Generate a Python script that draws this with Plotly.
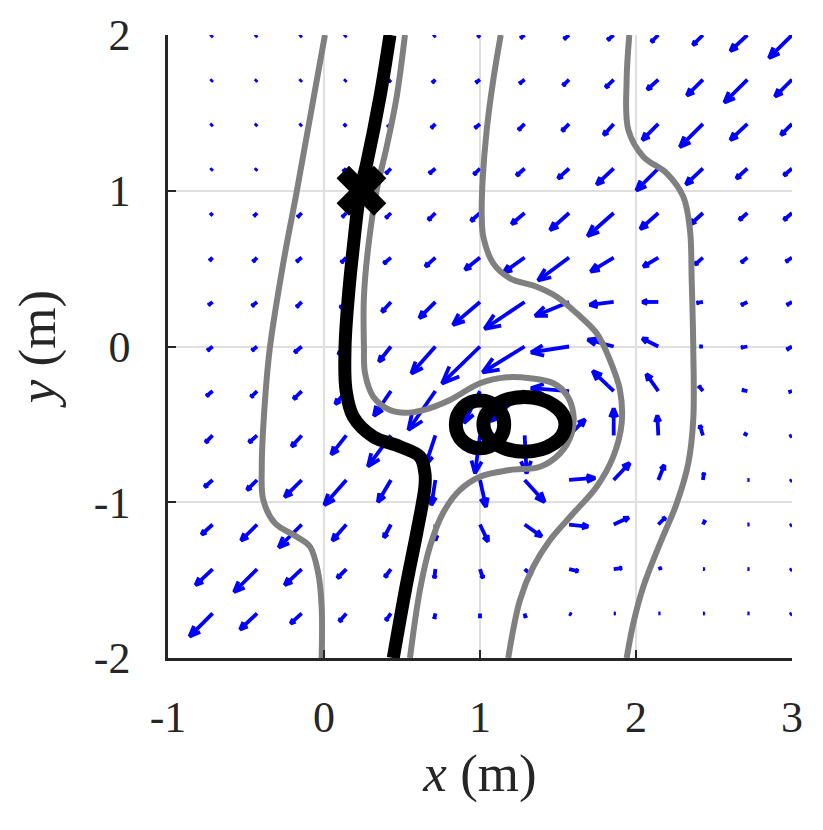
import numpy as np
import plotly.graph_objects as go
import plotly.figure_factory as ff

# quiver grid (tails of the arrows)
grid_x = [-0.714, -0.429, -0.143, 0.143, 0.429, 0.714, 1.0, 1.286, 1.571, 1.857, 2.143, 2.429, 2.714, 3.0]
grid_y = [2.0, 1.714, 1.429, 1.143, 0.857, 0.571, 0.286, 0.0, -0.286, -0.571, -0.857, -1.143, -1.429, -1.714]

# arrow components as drawn (one row per grid_y value)
U = [
    [-1.5, -1.5, -1.5, -1.5, -1.5, -1.5, -2, -4, -5, -6, -7, -10, -17, -23],
    [-1.5, -1.5, -1.5, -1.5, -2, -3, -4, -5, -6, -8, -11, -16, -23, -17],
    [-1.5, -1.5, -1.5, -2, -3, -4, -5, -6, -7, -10, -16, -23, -17, -11],
    [-1.5, -1.5, -2, -3, -5, -6, -6, -8, -11, -17, -22, -17, -11, -8],
    [-2, -3, -4, -4, -5, -7, -9, -13, -19, -26, -18, -12, -8, -8],
    [-3, -4, -5, -5, -7, -10, -15, -21, -31, -23, -15, -8, -6, -6],
    [-4, -5, -5, -6, -9, -16, -27, -40, -34, -24, -16, -6, -6, -5],
    [-5, -5, -7, -8, -12, -24, -38, -42, -38, -26, -16, -3, -6, -5],
    [-6, -6, -8, -11, -17, -27, -16, -34, -38, -21, -12, -4, -5, -3],
    [-7, -8, -10, -15, -23, -10, -5, 2, 16, 0, -1, -3, -3, -2],
    [-8, -10, -17, -22, -13, -4, 6, 20, 26, 16, 6, 1, 1.5, -1.5],
    [-11, -16, -23, -14, -7, 0, 8, 17, 19, 15, 7, 2, 1.5, -1.5],
    [-17, -23, -17, -9, -6, -1, 3, 7, 9, 8, 3, 1.5, 1.5, -1.5],
    [-23, -17, -11, -7, -5, -1, 0, 1, 2, 1.5, 1.5, 1.5, 1.5, -1.5],
]
V = [
    [-1.5, -1.5, -1.5, -1.5, -1.5, -1.5, -2, -3, -4, -5, -7, -10, -16, -23],
    [-1.5, -1.5, -1.5, -1.5, -2, -3, -3, -4, -6, -8, -10, -16, -23, -17],
    [-1.5, -1.5, -1.5, -2, -3, -4, -4, -6, -7, -11, -16, -23, -16, -11],
    [-1.5, -1.5, -2, -3, -5, -5, -6, -7, -10, -16, -22, -16, -10, -7],
    [-2, -3, -4, -4, -5, -7, -8, -11, -17, -23, -16, -11, -7, -7],
    [-3, -4, -4, -5, -6, -9, -12, -15, -23, -14, -9, -7, -5, -4],
    [-3, -4, -5, -6, -10, -16, -23, -27, -14, -3, 0, -1, -3, -3],
    [-4, -4, -6, -8, -15, -27, -37, -26, -6, 7, 8, 0, -1, -3],
    [-5, -6, -8, -13, -25, -39, -32, -30, 3, 20, 17, 5, 1, -1],
    [-7, -7, -11, -19, -31, -30, -38, -38, 16, 27, 20, 10, 2, -1],
    [-7, -10, -17, -25, -22, -25, -27, -22, 2, 17, 15, 7, 0, -1],
    [-10, -16, -23, -16, -13, -16, -17, -12, -2, 7, 7, 4, 0, -1],
    [-16, -23, -16, -9, -8, -9, -9, -6, -2, 1, 1, 0, 0, -1],
    [-23, -16, -10, -8, -7, -5, -4, -4, -1, 0, 0, 0, 0, -1],
]

# streamlines (grey)
s1_x = [0.006, -0.175, -0.261, -0.346, -0.378, -0.399, -0.389, -0.314, -0.175, -0.090, -0.037, -0.015, -0.015]
s1_y = [2.0, 0.994, 0.536, -0.001, -0.343, -0.772, -0.986, -1.135, -1.221, -1.285, -1.456, -1.671, -2.0]

s2_x = [0.519, 0.466, 0.402, 0.338, 0.284, 0.256, 0.256, 0.263, 0.316, 0.423, 0.519, 0.637, 0.808, 1.0,
        1.171, 1.321, 1.470, 1.556, 1.598, 1.588, 1.513, 1.385, 1.192, 1.0, 0.872, 0.763, 0.679, 0.615, 0.551]
s2_y = [2.0, 1.604, 1.283, 1.005, 0.641, 0.320, -0.001, -0.172, -0.322, -0.408, -0.425, -0.408, -0.343, -0.236,
        -0.198, -0.204, -0.236, -0.311, -0.429, -0.557, -0.686, -0.772, -0.793, -0.836, -0.921, -1.069, -1.285, -1.563, -2.0]

s3_x = [1.133, 1.085, 1.043, 1.017, 1.011, 1.021, 1.085, 1.192, 1.363, 1.492, 1.620, 1.748, 1.833, 1.897,
        1.908, 1.854, 1.748, 1.598, 1.449, 1.342, 1.256, 1.181]
s3_y = [2.0, 1.711, 1.390, 1.069, 0.855, 0.705, 0.534, 0.438, 0.384, 0.320, 0.213, 0.085, -0.087, -0.279,
        -0.493, -0.708, -0.900, -1.071, -1.242, -1.414, -1.628, -2.0]

s4_x = [1.957, 1.940, 1.951, 2.047, 2.197, 2.303, 2.346, 2.357, 2.367, 2.367, 2.335, 2.261, 2.154, 2.047, 1.983, 1.940]
s4_y = [2.0, 1.711, 1.390, 1.219, 1.112, 0.962, 0.748, 0.427, -0.001, -0.472, -0.750, -1.007, -1.264, -1.542, -1.777, -2.0]

# main trajectory (black)
traj_x = [0.423, 0.359, 0.274, 0.231, 0.188, 0.156, 0.135, 0.141, 0.188, 0.316, 0.487, 0.615, 0.647, 0.647, 0.594, 0.530, 0.444]
traj_y = [2.0, 1.604, 1.176, 0.994, 0.641, 0.320, 0.0, -0.279, -0.451, -0.579, -0.643, -0.708, -0.814, -0.900, -1.199, -1.520, -2.0]

start_x = [0.24]
start_y = [1.0]

# closed loops of the trajectory: centre and half-widths
loop_cx = [1.0, 1.285]
loop_cy = [-0.5, -0.5]
loop_rx = [0.155, 0.263]
loop_ry = [0.154, 0.175]

gx, gy = np.meshgrid(grid_x, grid_y)
quiver = ff.create_quiver(gx.ravel(), gy.ravel(), np.ravel(U), np.ravel(V),
                          scale=1 / 156, arrow_scale=0.35, angle=np.pi / 8,
                          line=dict(color='blue', width=3.8), hoverinfo='skip', showlegend=False)

fig = go.Figure(data=quiver.data)
for sx, sy in [(s1_x, s1_y), (s2_x, s2_y), (s3_x, s3_y), (s4_x, s4_y)]:
    fig.add_trace(go.Scatter(x=sx, y=sy, mode='lines', line=dict(color='#808080', width=6, shape='spline'),
                             showlegend=False))
fig.add_trace(go.Scatter(x=traj_x, y=traj_y, mode='lines', line=dict(color='black', width=13, shape='spline'),
                         showlegend=False))
fig.add_trace(go.Scatter(x=start_x, y=start_y, mode='markers',
                         marker=dict(symbol='x', size=44, color='black'), showlegend=False))

for cx, cy, rx, ry in zip(loop_cx, loop_cy, loop_rx, loop_ry):
    fig.add_shape(type='circle', xref='x', yref='y', x0=cx - rx, x1=cx + rx, y0=cy - ry, y1=cy + ry,
                  line=dict(color='black', width=14), layer='above')

font = 'Liberation Serif, Times New Roman, serif'
fig.update_layout(
    width=823, height=830,
    margin=dict(l=160, r=39, t=27, b=180),
    plot_bgcolor='white', paper_bgcolor='white',
    font=dict(family=font, size=44, color='#262626'),
)
fig.update_xaxes(
    range=[-1, 3], tickvals=[-1, 0, 1, 2, 3], ticktext=['-1', '0', '1', '2', '3'],
    showgrid=True, gridcolor='#dfdfdf', gridwidth=2, zeroline=False,
    showline=True, linecolor='#262626', linewidth=2.5, mirror=False, automargin=False,
    ticks='inside', ticklen=8, tickwidth=2, tickcolor='#262626', ticklabelstandoff=18,
    title=dict(text='<i>x</i> (m)', standoff=14),
)
fig.update_yaxes(
    range=[-2, 2], tickvals=[-2, -1, 0, 1, 2], ticktext=['-2', '-1', '0', '1', '2'],
    showgrid=True, gridcolor='#dfdfdf', gridwidth=2, zeroline=False,
    showline=True, linecolor='#262626', linewidth=2.5, mirror=False, automargin=False,
    ticks='inside', ticklen=8, tickwidth=2, tickcolor='#262626', ticklabelstandoff=26,
    title=dict(text='<i>y</i> (m)', standoff=24),
)

fig.write_html("out.html")
